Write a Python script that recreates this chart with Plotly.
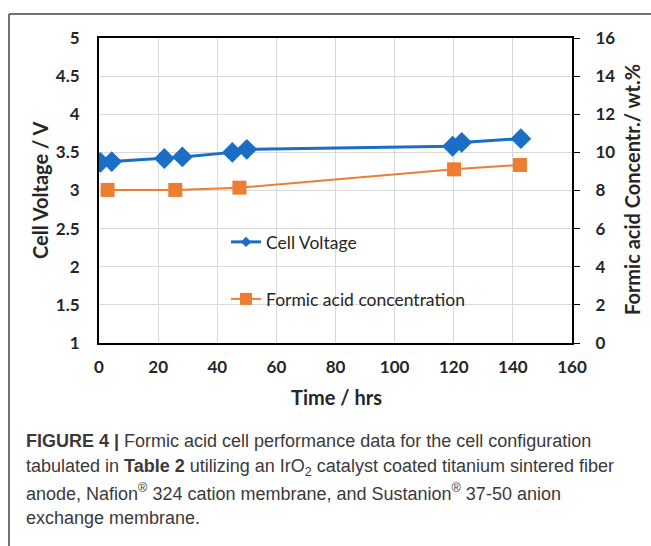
import plotly.graph_objects as go

# Data
time_v = [0.5, 4.3, 22.1, 28.2, 45.1, 50.0, 119.6, 122.7, 142.7]
voltage = [3.37, 3.38, 3.42, 3.44, 3.50, 3.54, 3.58, 3.63, 3.68]
time_c = [2.9, 25.8, 47.5, 120.1, 142.4]
conc = [8.03, 8.03, 8.15, 9.11, 9.34]

x_ticks = [0, 20, 40, 60, 80, 100, 120, 140, 160]
y_ticks = [1, 1.5, 2, 2.5, 3, 3.5, 4, 4.5, 5]
y2_ticks = [0, 2, 4, 6, 8, 10, 12, 14, 16]

BLUE = "#1a6ec6"
ORANGE = "#ed7d31"
AXFONT = dict(family="Lato", size=17, color="#262626", weight="bold")
LEGFONT = dict(family="Lato", size=17.5, color="#262626")

W, H = 651, 546
L, R, T, B = 99, 572, 38, 343

def px(x):
    return (x - L) / (R - L)

def py(y):
    return (B - y) / (B - T)

fig = go.Figure()
fig.add_trace(go.Scatter(
    x=time_v, y=voltage, name="Cell Voltage", mode="lines+markers",
    line=dict(color=BLUE, width=3),
    marker=dict(symbol="diamond", size=16, color=BLUE),
    showlegend=False,
))
fig.add_trace(go.Scatter(
    x=time_c, y=conc, name="Formic acid concentration", mode="lines+markers",
    line=dict(color=ORANGE, width=2),
    marker=dict(symbol="square", size=14, color=ORANGE),
    yaxis="y2", showlegend=False,
))
# legend entries (smaller symbols like the reference)
fig.add_trace(go.Scatter(
    x=[None], y=[None], name="Cell Voltage", mode="lines+markers",
    line=dict(color=BLUE, width=3),
    marker=dict(symbol="diamond", size=8, color=BLUE),
    legend="legend", hoverinfo="skip",
))
fig.add_trace(go.Scatter(
    x=[None], y=[None], name="Formic acid concentration", mode="lines+markers",
    line=dict(color=ORANGE, width=2),
    marker=dict(symbol="square", size=12, color=ORANGE),
    legend="legend2", hoverinfo="skip",
))

grid = "#d9d9d9"
fig.update_layout(
    width=W, height=H,
    margin=dict(l=L, r=W - R, t=T, b=H - B, pad=0),
    paper_bgcolor="white", plot_bgcolor="white",
    showlegend=True,
    xaxis=dict(range=[0, 160], tickvals=x_ticks, showgrid=True, gridcolor=grid, gridwidth=1,
               showline=True, linecolor="black", linewidth=2, mirror=True,
               zeroline=False, ticks="", tickfont=AXFONT, ticklabelstandoff=8),
    yaxis=dict(range=[1, 5], tickvals=y_ticks, showgrid=True, gridcolor=grid, gridwidth=1,
               showline=True, linecolor="black", linewidth=2,
               zeroline=False, ticks="", tickfont=AXFONT, ticklabelstandoff=14),
    yaxis2=dict(range=[0, 16], tickvals=y2_ticks, overlaying="y", side="right",
                showgrid=False, showline=True, linecolor="black", linewidth=2,
                zeroline=False, ticks="outside", ticklen=6, tickcolor="black",
                tickfont=AXFONT, ticklabelstandoff=12),
    legend=dict(x=px(226), y=py(242), xanchor="left", yanchor="middle",
                bgcolor="rgba(0,0,0,0)", font=LEGFONT, itemwidth=30),
    legend2=dict(x=px(226), y=py(299), xanchor="left", yanchor="middle",
                 bgcolor="rgba(0,0,0,0)", font=LEGFONT, itemwidth=30),
)

TITLEFONT = dict(family="Lato", size=20, color="#262626", weight="bold")
annos = [
    dict(text="Cell Voltage / V", x=px(40), y=py(191), textangle=-90, font=TITLEFONT),
    dict(text="Time / hrs", x=px(336), y=py(397), font=TITLEFONT),
    dict(text="Formic acid Concentr./ wt.%", x=px(632), y=py(190), textangle=-90, font=TITLEFONT),
]
for a in annos:
    fig.add_annotation(xref="paper", yref="paper", showarrow=False,
                       xanchor="center", yanchor="middle", **a)

CAPFONT = dict(family="Liberation Sans", size=18, color="#3a3a3a")
caption = [
    "<b>FIGURE 4 |</b> Formic acid cell performance data for the cell configuration",
    "tabulated in <b>Table 2</b> utilizing an IrO<sub>2</sub> catalyst coated titanium sintered fiber",
    "anode, Nafion<sup>®</sup> 324 cation membrane, and Sustanion<sup>®</sup> 37-50 anion",
    "exchange membrane.",
]
cap_y = [441, 467, 492, 518]
for txt, yy in zip(caption, cap_y):
    fig.add_annotation(xref="paper", yref="paper", showarrow=False, text=txt,
                       x=px(24), y=py(yy), xanchor="left", yanchor="middle",
                       font=CAPFONT, align="left")

# Outer frame lines (top and left)
fig.add_shape(type="line", xref="paper", yref="paper", x0=px(9), x1=px(651), y0=py(14), y1=py(14),
              line=dict(color="#444444", width=1.5))
fig.add_shape(type="line", xref="paper", yref="paper", x0=px(9), x1=px(9), y0=py(14), y1=py(546),
              line=dict(color="#444444", width=1.5))

fig.write_html("out.html")
